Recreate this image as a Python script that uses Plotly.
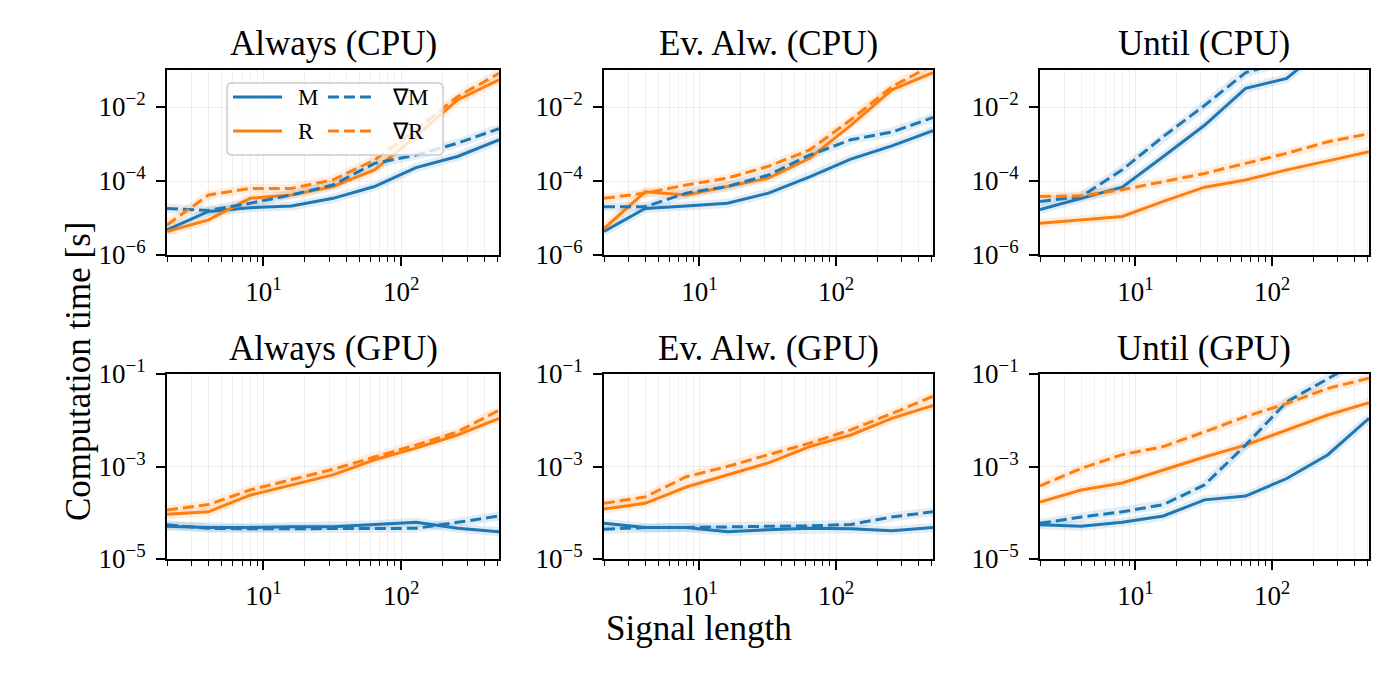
import plotly.graph_objects as go
from plotly.subplots import make_subplots

signal_length = [2, 4, 8, 16, 32, 64, 128, 256, 512]

titles = ["Always (CPU)", "Ev. Alw. (CPU)", "Until (CPU)",
          "Always (GPU)", "Ev. Alw. (GPU)", "Until (GPU)"]

# ---- Always (CPU)
alw_cpu_M = [4.8e-6, 1.5e-5, 1.9e-5, 2.1e-5, 3.4e-5, 7.1e-5, 2.3e-4, 4.6e-4, 1.3e-3]
alw_cpu_gM = [1.8e-5, 1.6e-5, 2.5e-5, 4.2e-5, 7.8e-5, 3.0e-4, 5.0e-4, 1.05e-3, 2.6e-3]
alw_cpu_R = [4.3e-6, 8.9e-6, 3.4e-5, 4.2e-5, 7.1e-5, 2.0e-4, 1.6e-3, 1.55e-2, 5.4e-2]
alw_cpu_gR = [6.5e-6, 4.2e-5, 6.3e-5, 6.3e-5, 1.07e-4, 3.7e-4, 2.4e-3, 1.9e-2, 8.1e-2]
# ---- Ev. Alw. (CPU)
ev_cpu_M = [4.3e-6, 1.8e-5, 2.1e-5, 2.5e-5, 4.7e-5, 1.3e-4, 3.9e-4, 8.9e-4, 2.3e-3]
ev_cpu_gM = [2.0e-5, 2.0e-5, 4.7e-5, 7.1e-5, 1.45e-4, 5.0e-4, 1.3e-3, 2.1e-3, 5.2e-3]
ev_cpu_R = [5.2e-6, 5.1e-5, 4.2e-5, 7.1e-5, 1.2e-4, 4.1e-4, 3.2e-3, 2.9e-2, 8.5e-2]
ev_cpu_gR = [3.4e-5, 4.7e-5, 7.8e-5, 1.2e-4, 2.5e-4, 6.9e-4, 4.5e-3, 3.5e-2, 1.4e-1]
# ---- Until (CPU)
un_cpu_M = [1.7e-5, 3.4e-5, 6.8e-5, 4.6e-4, 3.2e-3, 3.2e-2, 5.9e-2, 5.0e-1, 2.0]
un_cpu_gM = [2.8e-5, 3.8e-5, 2.0e-4, 1.6e-3, 1.1e-2, 8.5e-2, 1.8e-1, 6.0e-1, 2.0]
un_cpu_R = [7.2e-6, 9.1e-6, 1.1e-5, 2.8e-5, 6.8e-5, 1.07e-4, 2.0e-4, 3.5e-4, 6.2e-4]
un_cpu_gR = [3.8e-5, 4.0e-5, 5.8e-5, 9.5e-5, 1.6e-4, 3.0e-4, 5.6e-4, 1.15e-3, 1.9e-3]
# ---- Always (GPU)
alw_gpu_M = [5.1e-5, 4.8e-5, 4.8e-5, 5.0e-5, 5.0e-5, 5.5e-5, 6.2e-5, 4.6e-5, 3.9e-5]
alw_gpu_gM = [5.5e-5, 4.6e-5, 4.5e-5, 4.5e-5, 4.5e-5, 4.5e-5, 4.6e-5, 6.2e-5, 8.5e-5]
alw_gpu_R = [9.3e-5, 1.05e-4, 2.4e-4, 4.0e-4, 6.6e-4, 1.4e-3, 2.5e-3, 4.8e-3, 1.1e-2]
alw_gpu_gR = [1.15e-4, 1.5e-4, 3.1e-4, 5.1e-4, 8.7e-4, 1.6e-3, 2.9e-3, 5.6e-3, 1.65e-2]
# ---- Ev. Alw. (GPU)
ev_gpu_M = [5.9e-5, 4.8e-5, 4.8e-5, 3.9e-5, 4.3e-5, 4.6e-5, 4.5e-5, 4.1e-5, 4.8e-5]
ev_gpu_gM = [4.4e-5, 4.8e-5, 4.8e-5, 5.0e-5, 5.1e-5, 5.2e-5, 5.6e-5, 8.1e-5, 1.05e-4]
ev_gpu_R = [1.2e-4, 1.6e-4, 3.6e-4, 6.6e-4, 1.2e-3, 2.7e-3, 4.8e-3, 1.1e-2, 2.1e-2]
ev_gpu_gR = [1.6e-4, 2.2e-4, 6.0e-4, 1.0e-3, 1.8e-3, 3.2e-3, 6.2e-3, 1.4e-2, 3.3e-2]
# ---- Until (GPU)
un_gpu_M = [5.5e-5, 5.1e-5, 6.2e-5, 8.5e-5, 1.9e-4, 2.3e-4, 5.5e-4, 1.8e-3, 1.1e-2]
un_gpu_gM = [5.9e-5, 8.1e-5, 1.05e-4, 1.5e-4, 4.0e-4, 2.9e-3, 2.5e-2, 8.1e-2, 2.5e-1]
un_gpu_R = [1.7e-4, 3.1e-4, 4.4e-4, 8.3e-4, 1.6e-3, 2.9e-3, 6.2e-3, 1.3e-2, 2.4e-2]
un_gpu_gR = [3.8e-4, 9.1e-4, 1.8e-3, 2.7e-3, 5.6e-3, 1.2e-2, 2.3e-2, 4.9e-2, 8.1e-2]

panels = [
    (alw_cpu_M, alw_cpu_R, alw_cpu_gM, alw_cpu_gR),
    (ev_cpu_M, ev_cpu_R, ev_cpu_gM, ev_cpu_gR),
    (un_cpu_M, un_cpu_R, un_cpu_gM, un_cpu_gR),
    (alw_gpu_M, alw_gpu_R, alw_gpu_gM, alw_gpu_gR),
    (ev_gpu_M, ev_gpu_R, ev_gpu_gM, ev_gpu_gR),
    (un_gpu_M, un_gpu_R, un_gpu_gM, un_gpu_gR),
]

x_tickvals = [10, 100]
x_ticktext = ["10<sup>1</sup>", "10<sup>2</sup>"]
x_minor_all = [2, 3, 4, 5, 6, 7, 8, 9, 20, 30, 40, 50, 60, 70, 80, 90,
               200, 300, 400, 500]
y_top_tickvals = [1e-6, 1e-4, 1e-2]
y_top_ticktext = ["10<sup>−6</sup>", "10<sup>−4</sup>", "10<sup>−2</sup>"]
y_bot_tickvals = [1e-5, 1e-3, 1e-1]
y_bot_ticktext = ["10<sup>−5</sup>", "10<sup>−3</sup>", "10<sup>−1</sup>"]

BLUE = "#1f77b4"
ORANGE = "#ff7f0e"
BLUE_HALO = "rgba(31,119,180,0.13)"
ORANGE_HALO = "rgba(255,127,14,0.13)"
FONT = "Liberation Serif"
DASH = "11px,5px"
W, H = 1400, 700

def px(x):
    return x / W

def py(y):
    return 1 - y / H

fig = make_subplots(rows=2, cols=3)

styles = [(BLUE, BLUE_HALO, "solid"), (ORANGE, ORANGE_HALO, "solid"),
          (BLUE, BLUE_HALO, DASH), (ORANGE, ORANGE_HALO, DASH)]

for i, series in enumerate(panels):
    r, c = i // 3 + 1, i % 3 + 1
    for vals, (col, halo, dash) in zip(series, styles):
        fig.add_trace(go.Scatter(x=signal_length, y=vals, mode="lines",
                                 line=dict(color=halo, width=9),
                                 showlegend=False, hoverinfo="skip"), row=r, col=c)
    for vals, (col, halo, dash) in zip(series, styles):
        fig.add_trace(go.Scatter(x=signal_length, y=vals, mode="lines",
                                 line=dict(color=col, width=3, dash=dash),
                                 showlegend=False), row=r, col=c)

xdomains = [[px(167), px(499)], [px(604), px(933)], [px(1040), px(1369)]]
ydomains = [[py(255), py(70)], [py(559), py(374)]]

axis_common = dict(showline=True, linecolor="black", linewidth=2, mirror=True,
                   ticks="outside", tickcolor="black", tickwidth=1.5, ticklen=9,
                   automargin=False,
                   tickfont=dict(family=FONT, size=27, color="black"),
                   gridcolor="rgba(0,0,0,0.07)", gridwidth=1, zeroline=False)

for i in range(6):
    r, c = i // 3, i % 3
    n = "" if i == 0 else str(i + 1)
    fig.layout["xaxis" + n].update(
        type="log", range=[0.30103, 2.70927], domain=xdomains[c],
        tickmode="array", tickvals=x_tickvals, ticktext=x_ticktext,
        ticklabelstandoff=3,
        minor=dict(tickmode="array", tickvals=x_minor_all, ticks="outside",
                   ticklen=5, tickwidth=1.2, tickcolor="black",
                   showgrid=True, gridcolor="rgba(0,0,0,0.06)"),
        **axis_common)
    if r == 0:
        fig.layout["yaxis" + n].update(
            type="log", range=[-6, -1], domain=ydomains[0],
            tickmode="array", tickvals=y_top_tickvals, ticktext=y_top_ticktext,
            ticklabelstandoff=5, **axis_common)
    else:
        fig.layout["yaxis" + n].update(
            type="log", range=[-5, -1], domain=ydomains[1],
            tickmode="array", tickvals=y_bot_tickvals, ticktext=y_bot_ticktext,
            ticklabelstandoff=5, **axis_common)

annotations = []
title_centers = [333, 768, 1204]
for i, t in enumerate(titles):
    r, c = i // 3, i % 3
    yc = 44 if r == 0 else 348
    annotations.append(dict(text=t, x=px(title_centers[c]), y=py(yc),
                            xref="paper", yref="paper", xanchor="center",
                            yanchor="middle", showarrow=False,
                            font=dict(family=FONT, size=35, color="black")))

annotations.append(dict(text="Computation time [s]", x=px(78), y=py(372),
                        xref="paper", yref="paper", textangle=-90,
                        xanchor="center", yanchor="middle", showarrow=False,
                        font=dict(family=FONT, size=35, color="black")))
annotations.append(dict(text="Signal length", x=px(699), y=py(628),
                        xref="paper", yref="paper", xanchor="center",
                        yanchor="middle", showarrow=False,
                        font=dict(family=FONT, size=35, color="black")))

# ---- legend drawn manually
shapes = []
bx0, bx1, by0, by1 = 227, 443, 83, 155
rr = 5
path = (f"M {px(bx0+rr)},{py(by0)} L {px(bx1-rr)},{py(by0)} "
        f"Q {px(bx1)},{py(by0)} {px(bx1)},{py(by0+rr)} "
        f"L {px(bx1)},{py(by1-rr)} Q {px(bx1)},{py(by1)} {px(bx1-rr)},{py(by1)} "
        f"L {px(bx0+rr)},{py(by1)} Q {px(bx0)},{py(by1)} {px(bx0)},{py(by1-rr)} "
        f"L {px(bx0)},{py(by0+rr)} Q {px(bx0)},{py(by0)} {px(bx0+rr)},{py(by0)} Z")
shapes.append(dict(type="path", path=path, xref="paper", yref="paper",
                   fillcolor="rgba(255,255,255,0.8)",
                   line=dict(color="rgba(204,204,204,1)", width=1.5)))
legend_items = [("M", BLUE, "solid", 233, 282, 97, 296),
                ("R", ORANGE, "solid", 233, 282, 131, 296),
                ("∇M", BLUE, DASH, 328, 375, 97, 390),
                ("∇R", ORANGE, DASH, 328, 375, 131, 390)]
for label, col, dash, lx0, lx1, ly, tx in legend_items:
    shapes.append(dict(type="line", xref="paper", yref="paper",
                       x0=px(lx0), x1=px(lx1), y0=py(ly), y1=py(ly),
                       line=dict(color=col, width=3, dash=dash)))
    annotations.append(dict(text=label, x=px(tx), y=py(ly), xref="paper",
                            yref="paper", xanchor="left", yanchor="middle",
                            showarrow=False,
                            font=dict(family=FONT, size=23, color="black")))

fig.update_layout(width=W, height=H, margin=dict(l=0, r=0, t=0, b=0, pad=0),
                  plot_bgcolor="white", paper_bgcolor="white",
                  showlegend=False, annotations=annotations, shapes=shapes)

fig.write_html("out.html", config={"displayModeBar": False},
               post_script="document.body.style.margin='0';"
                           "document.body.style.overflow='hidden';")
